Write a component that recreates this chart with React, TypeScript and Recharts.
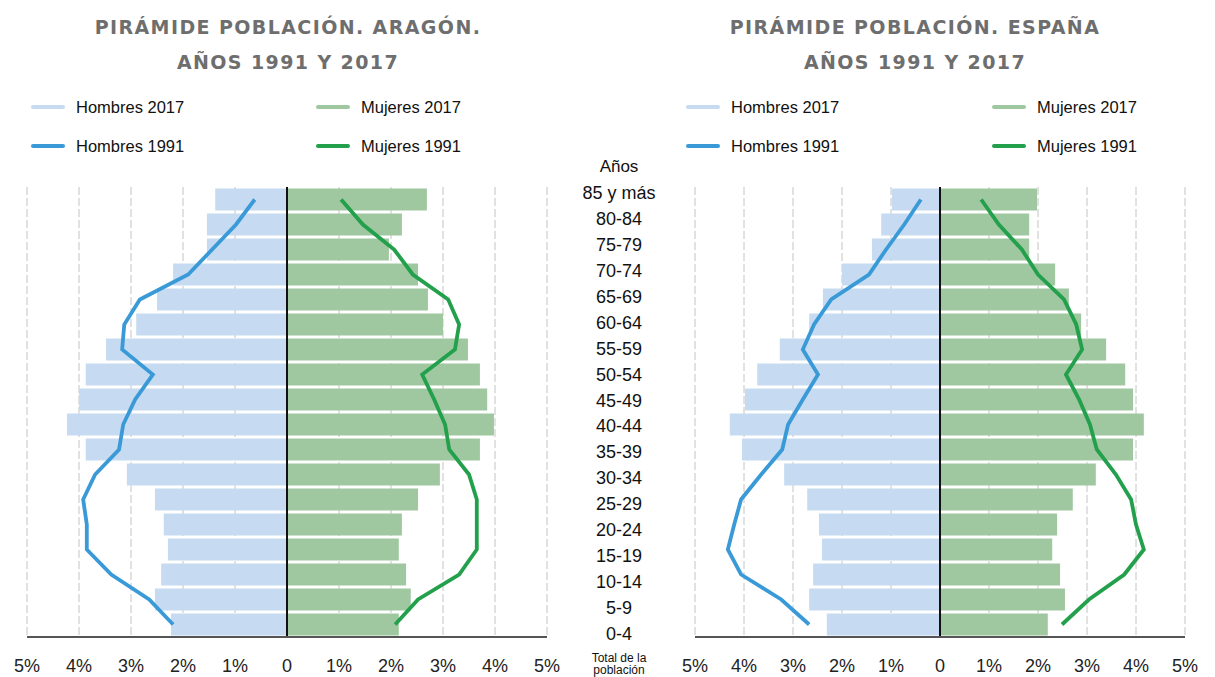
import {
  ComposedChart,
  Bar,
  Line,
  XAxis,
  YAxis,
  CartesianGrid,
  ReferenceLine,
} from "recharts";

// age groups top to bottom, as in the source table
const AGES = [
  "85 y más", "80-84", "75-79", "70-74", "65-69", "60-64", "55-59", "50-54", "45-49",
  "40-44", "35-39", "30-34", "25-29", "20-24", "15-19", "10-14", "5-9", "0-4",
];

// % of total population
const ARAGON_H2017 = [1.38, 1.54, 1.54, 2.19, 2.5, 2.9, 3.48, 3.87, 4.0, 4.23, 3.87, 3.08, 2.54, 2.37, 2.29, 2.42, 2.54, 2.23];
const ARAGON_M2017 = [2.69, 2.21, 1.96, 2.52, 2.71, 3.0, 3.48, 3.71, 3.85, 3.98, 3.71, 2.94, 2.52, 2.21, 2.15, 2.29, 2.38, 2.15];
const ARAGON_H1991 = [0.62, 0.98, 1.44, 1.9, 2.83, 3.13, 3.17, 2.58, 2.92, 3.15, 3.23, 3.69, 3.92, 3.85, 3.85, 3.38, 2.65, 2.19];
const ARAGON_M1991 = [1.04, 1.46, 2.06, 2.42, 3.1, 3.31, 3.23, 2.6, 2.83, 3.04, 3.12, 3.5, 3.65, 3.65, 3.65, 3.31, 2.52, 2.08];

const ESPANA_H2017 = [0.98, 1.2, 1.39, 2.0, 2.39, 2.67, 3.27, 3.73, 3.98, 4.29, 4.04, 3.18, 2.71, 2.47, 2.41, 2.59, 2.67, 2.31];
const ESPANA_M2017 = [1.98, 1.82, 1.82, 2.35, 2.63, 2.88, 3.39, 3.78, 3.94, 4.16, 3.94, 3.18, 2.71, 2.39, 2.29, 2.45, 2.55, 2.2];
const ESPANA_H1991 = [0.39, 0.73, 1.1, 1.45, 2.22, 2.57, 2.8, 2.49, 2.8, 3.1, 3.22, 3.65, 4.06, 4.2, 4.33, 4.06, 3.24, 2.67];
const ESPANA_M1991 = [0.84, 1.2, 1.67, 2.0, 2.53, 2.78, 2.9, 2.57, 2.84, 3.06, 3.2, 3.59, 3.9, 4.0, 4.16, 3.76, 3.04, 2.49];

const X_TICKS = [-5, -4, -3, -2, -1, 0, 1, 2, 3, 4, 5];

const COLORS = {
  h2017: "#c6dbf1",
  m2017: "#9fc8a1",
  h1991: "#3a9ad8",
  m1991: "#22a04b",
};

const LEGEND = [
  { key: "h2017", label: "Hombres 2017" },
  { key: "m2017", label: "Mujeres 2017" },
  { key: "h1991", label: "Hombres 1991" },
  { key: "m1991", label: "Mujeres 1991" },
];

const SANS = '"Liberation Sans", Arial, sans-serif';

function buildRows(h17: number[], m17: number[], h91: number[], m91: number[]) {
  return AGES.map((age, i) => ({
    age,
    h2017: -h17[i],
    m2017: m17[i],
    h1991: -h91[i],
    m1991: m91[i],
  }));
}

const fmtTick = (v: number) => (v === 0 ? "0" : `${Math.abs(v)}%`);

function Pyramid({
  rows,
  left,
  width,
  marginLeft,
  marginRight,
}: {
  rows: ReturnType<typeof buildRows>;
  left: number;
  width: number;
  marginLeft: number;
  marginRight: number;
}) {
  return (
    <div style={{ position: "absolute", left, top: 0 }}>
      <ComposedChart
        width={width}
        height={677}
        data={rows}
        layout="vertical"
        stackOffset="sign"
        barCategoryGap={1.5}
        margin={{ top: 187, right: marginRight, bottom: 0, left: marginLeft }}
      >
        <CartesianGrid horizontal={false} stroke="#c4c4c4" strokeDasharray="8 3" />
        <XAxis
          type="number"
          domain={[-5, 5]}
          ticks={X_TICKS}
          tickFormatter={fmtTick}
          height={40}
          tickLine={false}
          tickMargin={16}
          axisLine={{ stroke: "#555", strokeWidth: 2 }}
          tick={{ fontSize: 18, fill: "#222", fontFamily: SANS }}
        />
        <YAxis type="category" dataKey="age" hide />
        <Bar dataKey="h2017" stackId="s" fill={COLORS.h2017} isAnimationActive={false} />
        <Bar dataKey="m2017" stackId="s" fill={COLORS.m2017} isAnimationActive={false} />
        <ReferenceLine x={0} stroke="#111" strokeWidth={2} />
        <Line dataKey="h1991" type="linear" stroke={COLORS.h1991} strokeWidth={3.8} dot={false} isAnimationActive={false} />
        <Line dataKey="m1991" type="linear" stroke={COLORS.m1991} strokeWidth={3.8} dot={false} isAnimationActive={false} />
      </ComposedChart>
    </div>
  );
}

function Title({ lines, center }: { lines: string[]; center: number }) {
  return (
    <>
      {lines.map((t, i) => (
        <div
          key={t}
          style={{
            position: "absolute",
            left: center - 300,
            width: 600,
            top: 14 + i * 35,
            textAlign: "center",
            fontFamily: '"DejaVu Sans", sans-serif',
            fontWeight: 700,
            fontSize: 19,
            letterSpacing: 1.4,
            color: "#6e6e6e",
            lineHeight: "26px",
          }}
        >
          {t}
        </div>
      ))}
    </>
  );
}

function LegendBlock({ x1, x2 }: { x1: number; x2: number }) {
  return (
    <>
      {LEGEND.map((item, i) => {
        const x = i % 2 === 0 ? x1 : x2;
        const y = i < 2 ? 107 : 146;
        return (
          <div key={item.key} style={{ position: "absolute", left: x, top: y - 12, height: 24, display: "flex", alignItems: "center" }}>
            <span
              style={{
                display: "inline-block",
                width: 34,
                height: 4,
                borderRadius: 2,
                background: COLORS[item.key as keyof typeof COLORS],
                marginRight: 11,
              }}
            />
            <span style={{ fontFamily: SANS, fontSize: 16.5, color: "#111" }}>{item.label}</span>
          </div>
        );
      })}
    </>
  );
}

export default function App() {
  const aragon = buildRows(ARAGON_H2017, ARAGON_M2017, ARAGON_H1991, ARAGON_M1991);
  const espana = buildRows(ESPANA_H2017, ESPANA_M2017, ESPANA_H1991, ESPANA_M1991);

  return (
    <div style={{ position: "absolute", left: 0, top: 0, width: 1215, height: 677, background: "#fff", overflow: "hidden" }}>
      <Title lines={["PIRÁMIDE POBLACIÓN. ARAGÓN.", "AÑOS 1991 Y 2017"]} center={288} />
      <Title lines={["PIRÁMIDE POBLACIÓN. ESPAÑA", "AÑOS 1991 Y 2017"]} center={915} />
      <LegendBlock x1={31} x2={316} />
      <LegendBlock x1={686} x2={992} />

      <Pyramid rows={aragon} left={0} width={600} marginLeft={27} marginRight={53} />
      <Pyramid rows={espana} left={640} width={575} marginLeft={55} marginRight={30} />

      {/* age column between the two pyramids */}
      <div style={{ position: "absolute", left: 569, width: 100, top: 155, textAlign: "center", fontFamily: SANS, fontSize: 17, color: "#111", lineHeight: "24px" }}>
        Años
      </div>
      {AGES.map((a, i) => (
        <div
          key={a}
          style={{
            position: "absolute",
            left: 569,
            width: 100,
            top: 193 + i * 25.94 - 12,
            textAlign: "center",
            fontFamily: SANS,
            fontSize: 18,
            color: "#111",
            lineHeight: "24px",
          }}
        >
          {a}
        </div>
      ))}
      <div style={{ position: "absolute", left: 569, width: 100, top: 652, textAlign: "center", fontFamily: SANS, fontSize: 12, color: "#111", lineHeight: "12px" }}>
        Total de la
        <br />
        población
      </div>
    </div>
  );
}
